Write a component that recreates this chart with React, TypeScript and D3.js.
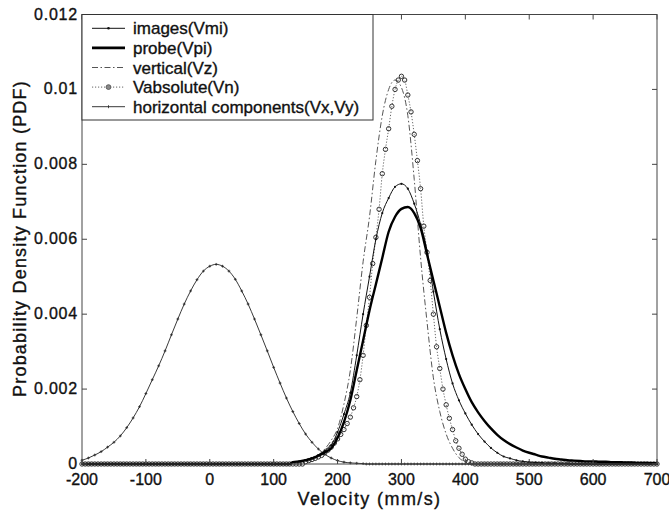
import React from "react";
import * as d3 from "d3";

const W = 669;
const H = 516;
const PLOT = { left: 82, right: 657, top: 14.5, bottom: 464 };

const xTicks = [-200, -100, 0, 100, 200, 300, 400, 500, 600, 700];
const yTicks = [0, 0.002, 0.004, 0.006, 0.008, 0.01, 0.012];
const yTickLabels = ["0", "0.002", "0.004", "0.006", "0.008", "0.01", "0.012"];

const legendLabels = [
  "images(Vmi)",
  "probe(Vpi)",
  "vertical(Vz)",
  "Vabsolute(Vn)",
  "horizontal components(Vx,Vy)",
];

// horizontal components (Vx,Vy): from -200, every 10 mm/s
const horizontalStart = -200;
const horizontalStep = 10;
const horizontalValues = [
  0.0001, 0.00016, 0.00024, 0.00033, 0.00045, 0.00058, 0.00075, 0.00097, 0.00123, 0.00153,
  0.00188, 0.00225, 0.00262, 0.00302, 0.00345, 0.00387, 0.00427, 0.00462, 0.00492, 0.00515,
  0.00528, 0.00533, 0.00528, 0.00515, 0.00493, 0.00462, 0.00427, 0.00387, 0.00345, 0.00302,
  0.00258, 0.00216, 0.00176, 0.0014, 0.00108, 0.0008, 0.00058, 0.0004, 0.00026, 0.00016,
  0.00009, 0.00005, 0.00003, 0.00002, 0.00001,
];

// images (Vmi): from 130, every 10 mm/s
const imagesStart = 130;
const imagesStep = 10;
const imagesValues = [
  0.00005, 0.00007, 0.0001, 0.00016, 0.00024, 0.00035, 0.0005, 0.00085, 0.00133, 0.0019,
  0.0029, 0.004, 0.005, 0.006, 0.0067, 0.0071, 0.0074, 0.00748, 0.00735, 0.00695,
  0.0064, 0.0057, 0.0046, 0.0036, 0.0028, 0.00215, 0.0017, 0.00135, 0.00105, 0.0008,
  0.0006, 0.00043, 0.0003, 0.0002, 0.00015, 0.0001, 0.00007, 0.00005, 0.00004, 0.00003,
  0.00002, 0.00002, 0.00001, 0.00001,
];

// probe (Vpi): from 130, every 10 mm/s
const probeStart = 130;
const probeStep = 10;
const probeValues = [
  0.00005, 0.00007, 0.0001, 0.00015, 0.00022, 0.00031, 0.00042, 0.0007, 0.00112, 0.0017,
  0.0025, 0.0033, 0.0041, 0.0048, 0.0055, 0.0062, 0.0066, 0.00681, 0.00686, 0.0067,
  0.0063, 0.0056, 0.0049, 0.0042, 0.0035, 0.0029, 0.0024, 0.002, 0.00165, 0.00138,
  0.00115, 0.00095, 0.00078, 0.00064, 0.00053, 0.00044, 0.00036, 0.0003, 0.00025, 0.0002,
  0.00017, 0.00014, 0.00012, 0.0001, 0.00009, 0.00008, 0.00007, 0.00007, 0.00006, 0.00006,
  0.00005, 0.00005, 0.00004, 0.00004, 0.00003, 0.00003, 0.00002, 0.00002,
];

// vertical (Vz): from 130, every 10 mm/s
const verticalStart = 130;
const verticalStep = 10;
const verticalValues = [
  0.00002, 0.00003, 0.00006, 0.00012, 0.00024, 0.0004, 0.00063, 0.00095, 0.0016, 0.0025,
  0.0039, 0.0054, 0.0066, 0.0081, 0.0093, 0.01, 0.01025, 0.01005, 0.0093, 0.0076,
  0.0055, 0.0038, 0.0023, 0.0014, 0.0008, 0.00042, 0.00017, 0.00005, 0.00001,
];

// Vabsolute (Vn): from 150, every 5 mm/s
const absoluteStart = 150;
const absoluteStep = 5;
const absoluteValues = [
  0.00006, 0.00009, 0.00012, 0.00015, 0.00019, 0.00023, 0.0003, 0.00037, 0.00045, 0.00056,
  0.00067, 0.00079, 0.00092, 0.00108, 0.00125, 0.0015, 0.0018, 0.00225, 0.0029, 0.0037,
  0.00445, 0.00535, 0.00605, 0.0068, 0.00775, 0.0084, 0.00895, 0.00955, 0.01, 0.01025,
  0.01035, 0.01025, 0.00985, 0.0094, 0.0088, 0.0081, 0.00735, 0.00635, 0.00565, 0.0049,
  0.004, 0.00313, 0.00255, 0.002, 0.00158, 0.00122, 0.00092, 0.00062, 0.00042, 0.00026,
  0.00013, 0.00006, 0.00003,
];

const X_MIN = -200;
const X_MAX = 700;

function buildSeries(start: number, step: number, values: number[]): [number, number][] {
  const end = start + step * (values.length - 1);
  const pts: [number, number][] = [];
  for (let v = X_MIN; v < start; v += 5) pts.push([v, 0]);
  values.forEach((val, i) => pts.push([start + i * step, val]));
  for (let v = end + 5; v <= X_MAX; v += 5) pts.push([v, 0]);
  return pts;
}

const FONT = "'Liberation Sans', Arial, Helvetica, sans-serif";
const TEXT_STROKE = { stroke: "#111", strokeWidth: 0.35 };

export default function App() {
  const x = d3.scaleLinear().domain([X_MIN, X_MAX]).range([PLOT.left, PLOT.right]);
  const y = d3.scaleLinear().domain([0, 0.012]).range([PLOT.bottom, PLOT.top]);

  const line = d3
    .line<[number, number]>()
    .x((d) => x(d[0]))
    .y((d) => y(d[1]))
    .curve(d3.curveMonotoneX);

  const horizontal = buildSeries(horizontalStart, horizontalStep, horizontalValues);
  const images = buildSeries(imagesStart, imagesStep, imagesValues);
  const probe = buildSeries(probeStart, probeStep, probeValues);
  const vertical = buildSeries(verticalStart, verticalStep, verticalValues);
  const absolute = buildSeries(absoluteStart, absoluteStep, absoluteValues);

  const tickLen = 5;
  const legend = { x: PLOT.left, y: PLOT.top, w: 291, h: 105.5 };
  const rowY = (i: number) => 28.3 + i * 19.6;
  const sx0 = 92;
  const sx1 = 125;
  const sxm = (sx0 + sx1) / 2;

  return (
    <svg
      width={W}
      height={H}
      viewBox={`0 0 ${W} ${H}`}
      style={{ position: "absolute", left: 0, top: 0, background: "#fff" }}
    >
      <rect x={0} y={0} width={W} height={H} fill="#fff" />

      {/* curves */}
      <g>
        <path d={line(horizontal) || ""} fill="none" stroke="#222" strokeWidth={0.9} />
        {horizontal.map((d, i) => (
          <path
            key={"hm" + i}
            d={`M${x(d[0]) - 1.4},${y(d[1])}h2.8M${x(d[0])},${y(d[1]) - 1.4}v2.8`}
            stroke="#222"
            strokeWidth={0.8}
          />
        ))}

        <path
          d={line(vertical) || ""}
          fill="none"
          stroke="#555"
          strokeWidth={1}
          strokeDasharray="6,2.5,1.5,2.5"
        />

        <path
          d={line(absolute) || ""}
          fill="none"
          stroke="#555"
          strokeWidth={0.9}
          strokeDasharray="1.2,1.8"
        />
        {absolute.map((d, i) => (
          <circle
            key={"am" + i}
            cx={x(d[0])}
            cy={y(d[1])}
            r={2.2}
            fill="none"
            stroke="#333"
            strokeWidth={1}
          />
        ))}

        <path d={line(images) || ""} fill="none" stroke="#111" strokeWidth={1} />
        {images.map((d, i) => (
          <circle key={"im" + i} cx={x(d[0])} cy={y(d[1])} r={1.1} fill="#111" />
        ))}

        <path d={line(probe) || ""} fill="none" stroke="#000" strokeWidth={2.4} />
      </g>

      {/* axes box */}
      <rect
        x={PLOT.left}
        y={PLOT.top}
        width={PLOT.right - PLOT.left}
        height={PLOT.bottom - PLOT.top}
        fill="none"
        stroke="#444"
        strokeWidth={1}
      />
      {xTicks.map((t) => (
        <g key={"xt" + t}>
          <line x1={x(t)} x2={x(t)} y1={PLOT.bottom} y2={PLOT.bottom - tickLen} stroke="#444" />
          <line x1={x(t)} x2={x(t)} y1={PLOT.top} y2={PLOT.top + tickLen} stroke="#444" />
          <text
            x={x(t)}
            y={485}
            textAnchor="middle"
            fontFamily={FONT}
            fontSize={16}
            fill="#111"
            {...TEXT_STROKE}
          >
            {t}
          </text>
        </g>
      ))}
      {yTicks.map((t, i) => (
        <g key={"yt" + t}>
          <line x1={PLOT.left} x2={PLOT.left + tickLen} y1={y(t)} y2={y(t)} stroke="#444" />
          <line x1={PLOT.right} x2={PLOT.right - tickLen} y1={y(t)} y2={y(t)} stroke="#444" />
          <text
            x={78}
            y={y(t) + 5}
            textAnchor="end"
            fontFamily={FONT}
            fontSize={16}
            letterSpacing={0.8}
            fill="#111"
            {...TEXT_STROKE}
          >
            {yTickLabels[i]}
          </text>
        </g>
      ))}

      {/* axis labels */}
      <text
        x={(PLOT.left + PLOT.right) / 2}
        y={505}
        textAnchor="middle"
        fontFamily={FONT}
        fontSize={18}
        letterSpacing={1.4}
        fill="#111"
        {...TEXT_STROKE}
      >
        Velocity (mm/s)
      </text>
      <text
        transform={`translate(26,238.5) rotate(-90)`}
        textAnchor="middle"
        fontFamily={FONT}
        fontSize={18}
        letterSpacing={1.2}
        fill="#111"
        {...TEXT_STROKE}
      >
        Probability Density Function (PDF)
      </text>

      {/* legend */}
      <rect
        x={legend.x}
        y={legend.y}
        width={legend.w}
        height={legend.h}
        fill="#fff"
        stroke="#333"
        strokeWidth={1}
      />
      {legendLabels.map((lab, i) => {
        const yy = rowY(i);
        let sample: React.ReactNode = null;
        if (i === 0) {
          sample = (
            <g>
              <line x1={sx0} x2={sx1} y1={yy} y2={yy} stroke="#111" strokeWidth={1} />
              <circle cx={sxm} cy={yy} r={1.3} fill="#111" />
            </g>
          );
        } else if (i === 1) {
          sample = <line x1={sx0} x2={sx1} y1={yy} y2={yy} stroke="#000" strokeWidth={2.6} />;
        } else if (i === 2) {
          sample = (
            <line
              x1={sx0}
              x2={sx1}
              y1={yy}
              y2={yy}
              stroke="#555"
              strokeWidth={1}
              strokeDasharray="6,2.5,1.5,2.5"
            />
          );
        } else if (i === 3) {
          sample = (
            <g>
              <line
                x1={sx0}
                x2={sx1}
                y1={yy}
                y2={yy}
                stroke="#555"
                strokeWidth={0.9}
                strokeDasharray="1.2,1.8"
              />
              <circle cx={sxm} cy={yy} r={2.4} fill="#888" stroke="#555" strokeWidth={0.9} />
            </g>
          );
        } else {
          sample = (
            <g>
              <line x1={sx0} x2={sx1} y1={yy} y2={yy} stroke="#222" strokeWidth={0.9} />
              <path d={`M${sxm},${yy - 1.5}v3`} stroke="#222" strokeWidth={0.8} />
            </g>
          );
        }
        return (
          <g key={"lg" + i}>
            {sample}
            <text
              x={133}
              y={yy + 6}
              fontFamily={FONT}
              fontSize={17}
              fill="#111"
              {...TEXT_STROKE}
            >
              {lab}
            </text>
          </g>
        );
      })}
    </svg>
  );
}
